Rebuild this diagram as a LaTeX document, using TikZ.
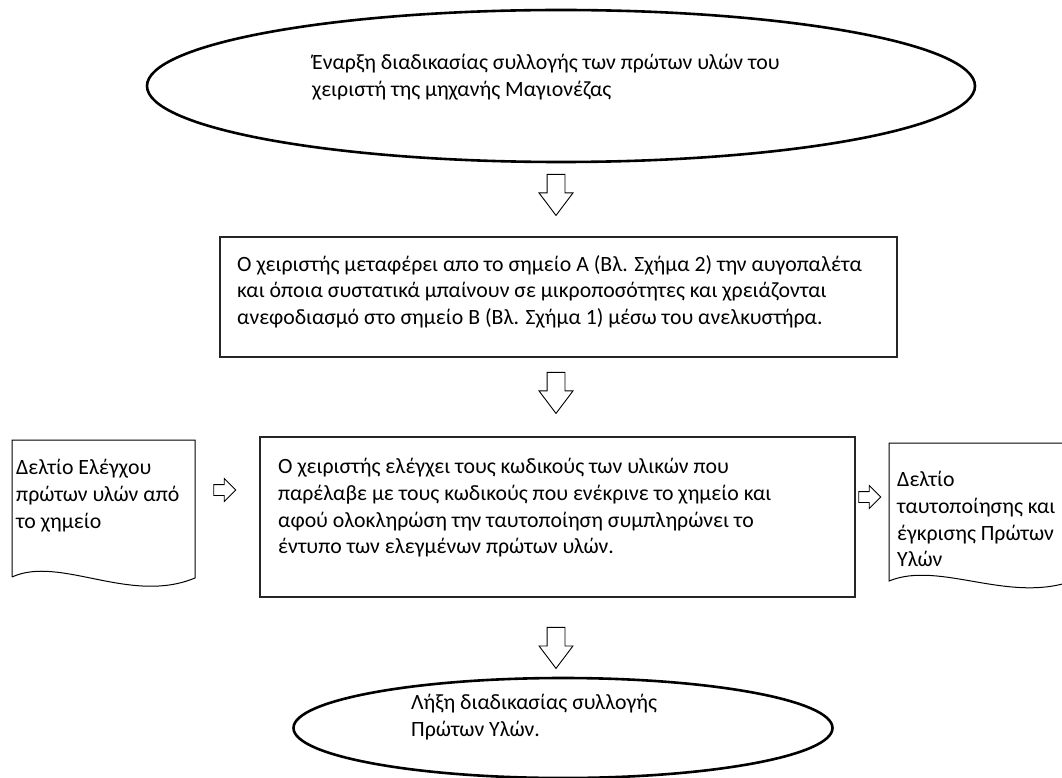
\documentclass[tikz,border=0pt]{standalone}
\usepackage{fontspec}
\setmainfont{Carlito}
\usetikzlibrary{shapes.geometric,shapes.arrows,positioning}

\tikzset{
  txt/.style={anchor=north west, inner sep=0pt, align=left, font=\fontsize{21.8}{26.8}\selectfont},
  terminal/.style={draw, ellipse, line width=2.6pt, inner sep=0pt},
  process/.style={draw=black!85, line width=1.3pt, inner sep=0pt},
  docline/.style={line width=1pt},
  blockarrow/.style={draw, single arrow, line width=0.9pt, inner xsep=0pt, inner ysep=8.5pt,
    single arrow head extend=8pt, single arrow tip angle=74,
    minimum height=41pt, rotate=-90},
  smallarrow/.style={draw, single arrow, line width=0.9pt, inner xsep=0pt, inner ysep=5pt,
    single arrow head extend=6pt, single arrow tip angle=90,
    minimum height=22pt}
}

\begin{document}
\begin{tikzpicture}[x=1pt, y=-1pt]
\useasboundingbox (0,0) rectangle (1062,778);

% start
\node[terminal, minimum width=828pt, minimum height=152pt] (start) at (561,86) {};
\node[txt] (starttxt) at (312,54) {Έναρξη διαδικασίας συλλογής των πρώτων υλών του\\
  χειριστή της μηχανής Μαγιονέζας};

\node[blockarrow] (arr1) at (556,189) {};

% step 1
\node[process, minimum width=677pt, minimum height=120pt] (step1) at (558.5,297) {};
\node[txt] (step1txt) at (237,255) {Ο χειριστής μεταφέρει απο το σημείο Α (Βλ. Σχήμα 2) την αυγοπαλέτα\\
  και όποια συστατικά μπαίνουν σε μικροποσότητες και χρειάζονται\\
  ανεφοδιασμό στο σημείο Β (Βλ. Σχήμα 1) μέσω του ανελκυστήρα.};

\node[blockarrow] (arr2) at (556,387) {};

% step 2
\node[process, minimum width=595pt, minimum height=160pt] (step2) at (557.5,517) {};
\node[txt] (step2txt) at (278,458) {Ο χειριστής ελέγχει τους κωδικούς των υλικών που\\
  παρέλαβε με τους κωδικούς που ενέκρινε το χημείο και\\
  αφού ολοκληρώση την ταυτοποίηση συμπληρώνει το\\
  έντυπο των ελεγμένων πρώτων υλών.};

% input document
\draw[docline] (12,577) -- (12,440) -- (195,440) -- (195,578)
  .. controls (130,605) and (60,555) .. (12,577);
\node[txt] (doc1txt) at (16,459) {Δελτίο Ελέγχου\\ πρώτων υλών από\\ το χημείο};
\node[smallarrow] (arr4) at (222,490) {};

% output document
\node[smallarrow] (arr5) at (867,497) {};
\draw[docline] (1075,443) -- (889,443) -- (889,581)
  .. controls (940,560) and (1010,605) .. (1075,580);
\node[txt] (doc2txt) at (897,471) {Δελτίο\\ ταυτοποίησης και\\ έγκρισης Πρώτων\\ Υλών};

\node[blockarrow] (arr3) at (556,642) {};

% end
\node[terminal, minimum width=539pt, minimum height=100pt] (finish) at (563,728) {};
\node[txt] (finishtxt) at (411,694) {Λήξη διαδικασίας συλλογής\\ Πρώτων Υλών.};
\end{tikzpicture}
\end{document}
